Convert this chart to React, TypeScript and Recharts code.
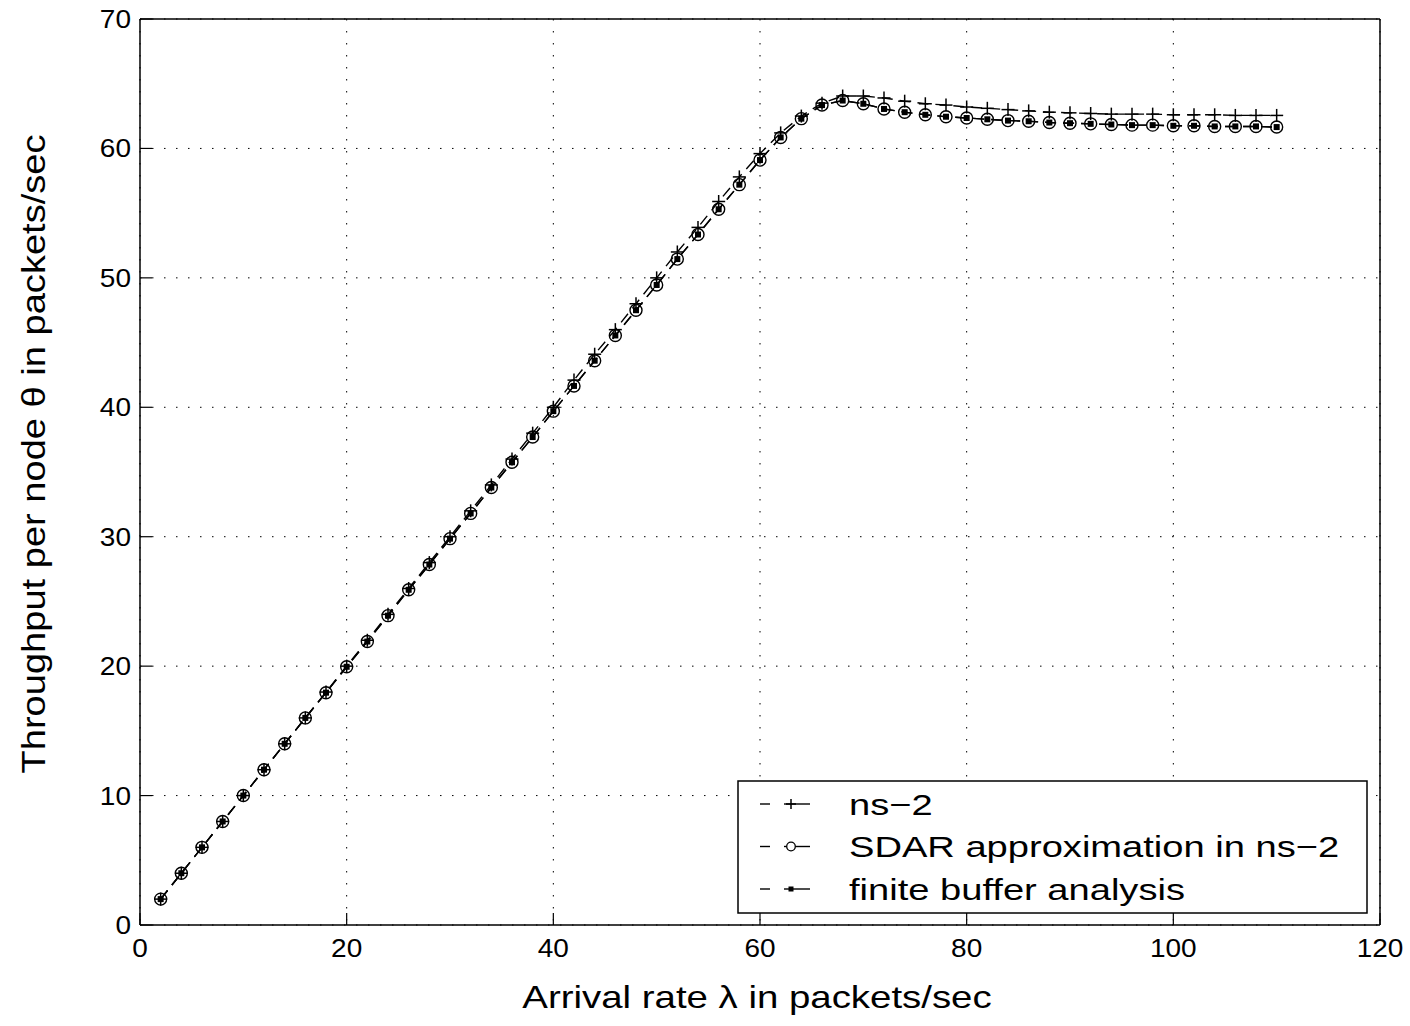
import React from "react";
import {
  ComposedChart,
  Line,
  XAxis,
  YAxis,
  CartesianGrid,
  Legend,
} from "recharts";

const FONT = '"Liberation Sans", Arial, Helvetica, sans-serif';

// arrival rate lambda (packets/sec)
const arrivalRate = [
  2, 4, 6, 8, 10, 12, 14, 16, 18, 20, 22, 24, 26, 28, 30, 32, 34, 36, 38, 40,
  42, 44, 46, 48, 50, 52, 54, 56, 58, 60, 62, 64, 66, 68, 70, 72, 74, 76, 78,
  80, 82, 84, 86, 88, 90, 92, 94, 96, 98, 100, 102, 104, 106, 108, 110,
];

const ns2Throughput = [
  2.0, 4.0, 6.0, 8.0, 10.0, 12.0, 14.0, 16.0, 18.0, 20.0, 22.0, 24.0, 26.0,
  28.0, 30.0, 32.0, 34.0, 36.0, 38.0, 40.0, 42.1, 44.1, 46.0, 48.0, 50.0, 52.0,
  53.9, 55.9, 57.8, 59.6, 61.2, 62.5, 63.5, 64.05, 64.05, 63.9, 63.65, 63.45,
  63.35, 63.2, 63.1, 63.0, 62.9, 62.8, 62.75, 62.7, 62.65, 62.65, 62.65, 62.6,
  62.6, 62.6, 62.55, 62.55, 62.55,
];

const sdarThroughput = [
  2.0, 4.0, 6.0, 8.0, 10.0, 12.0, 14.0, 16.0, 17.95, 19.95, 21.9, 23.9, 25.9,
  27.85, 29.85, 31.8, 33.8, 35.75, 37.7, 39.7, 41.65, 43.6, 45.55, 47.5, 49.45,
  51.45, 53.35, 55.3, 57.2, 59.1, 60.85, 62.3, 63.35, 63.7, 63.45, 63.05, 62.8,
  62.6, 62.45, 62.35, 62.25, 62.15, 62.1, 62.0, 61.95, 61.9, 61.85, 61.8,
  61.8, 61.75, 61.75, 61.7, 61.7, 61.7, 61.65,
];

const finiteBufferThroughput = [
  2.0, 4.0, 6.0, 8.0, 10.0, 12.0, 14.0, 16.0, 17.95, 19.95, 21.9, 23.9, 25.9,
  27.85, 29.85, 31.8, 33.8, 35.75, 37.7, 39.7, 41.65, 43.6, 45.55, 47.5, 49.45,
  51.45, 53.35, 55.3, 57.2, 59.1, 60.85, 62.3, 63.35, 63.7, 63.45, 63.05, 62.8,
  62.6, 62.45, 62.35, 62.25, 62.15, 62.1, 62.0, 61.95, 61.9, 61.85, 61.8,
  61.8, 61.75, 61.75, 61.7, 61.7, 61.7, 61.65,
];

const xTicks = [0, 20, 40, 60, 80, 100, 120];
const yTicks = [0, 10, 20, 30, 40, 50, 60, 70];
const seriesNames = [
  "ns\u22122",
  "SDAR approximation in ns\u22122",
  "finite buffer analysis",
];
const seriesMarkers = ["plus", "circle", "square"];

const data = arrivalRate.map((x, i) => ({
  x,
  ns2: ns2Throughput[i],
  sdar: sdarThroughput[i],
  fb: finiteBufferThroughput[i],
}));

const Plus = ({ cx, cy, r = 6.5 }: any) => {
  if (cx == null || cy == null) return null;
  return (
    <g>
      <line x1={cx - r} y1={cy} x2={cx + r} y2={cy} stroke="#000" strokeWidth={1.5} />
      <line x1={cx} y1={cy - r} x2={cx} y2={cy + r} stroke="#000" strokeWidth={1.5} />
    </g>
  );
};

const Ring = ({ cx, cy, r = 6 }: any) => {
  if (cx == null || cy == null) return null;
  return <circle cx={cx} cy={cy} r={r} fill="none" stroke="#000" strokeWidth={1.4} />;
};

const Square = ({ cx, cy, s = 3 }: any) => {
  if (cx == null || cy == null) return null;
  return <rect x={cx - s} y={cy - s} width={s * 2} height={s * 2} fill="#000" />;
};

const YTick = ({ x, y, payload }: any) => (
  <text
    transform={`translate(${x},${y}) scale(1.12,1)`}
    textAnchor="end"
    dy="0.36em"
    fontSize={25}
    fontFamily={FONT}
    fill="#000"
  >
    {payload.value}
  </text>
);

const XTick = ({ x, y, payload }: any) => (
  <text
    transform={`translate(${x},${y}) scale(1.12,1)`}
    textAnchor="middle"
    fontSize={25}
    fontFamily={FONT}
    fill="#000"
  >
    {payload.value}
  </text>
);

const XLabel = ({ viewBox }: any) => (
  <text
    transform={`translate(${viewBox.x + viewBox.width / 2 - 3},${viewBox.y + 83}) scale(1.2,1)`}
    textAnchor="middle"
    fontSize={32}
    fontFamily={FONT}
    fill="#000"
  >
    Arrival rate {"\u03bb"} in packets/sec
  </text>
);

const YLabel = ({ viewBox }: any) => (
  <text
    transform={`translate(${viewBox.x + 45},${viewBox.y + viewBox.height / 2 - 18}) rotate(-90) scale(1.12,1)`}
    textAnchor="middle"
    fontSize={34}
    fontFamily={FONT}
    fill="#000"
  >
    Throughput per node {"\u03b8"} in packets/sec
  </text>
);

const LegendBox = () => {
  const rows = [814.5, 857, 899.5].map((b) => b - 780);
  return (
    <svg width={631} height={134} style={{ display: "block" }}>
      <rect x={1} y={1} width={629} height={132} fill="#fff" stroke="#000" strokeWidth={1.5} />
      {seriesNames.map((name, i) => {
        const my = rows[i] - 10.5;
        return (
          <g key={name}>
            <line x1={23} y1={my} x2={33} y2={my} stroke="#000" strokeWidth={1.4} />
            <line x1={47} y1={my} x2={73} y2={my} stroke="#000" strokeWidth={1.4} />
            {seriesMarkers[i] === "plus" && <Plus cx={54} cy={my} r={5} />}
            {seriesMarkers[i] === "circle" && (
              <circle cx={54} cy={my} r={4.3} fill="#fff" stroke="#000" strokeWidth={1.3} />
            )}
            {seriesMarkers[i] === "square" && <Square cx={54} cy={my} s={2.5} />}
            <text
              transform={`translate(112,${rows[i]}) scale(1.27,1)`}
              fontSize={30}
              fontFamily={FONT}
              fill="#000"
            >
              {name}
            </text>
          </g>
        );
      })}
    </svg>
  );
};

export default function App() {
  return (
    <div style={{ position: "absolute", left: 0, top: 0, background: "#fff" }}>
      <ComposedChart
        width={1410}
        height={1026}
        data={data}
        margin={{ top: 0, right: 0, bottom: 0, left: 0 }}
      >
        <CartesianGrid
          stroke="#000"
          strokeWidth={1}
          strokeDasharray="1.5 10.5"
        />
        <XAxis
          dataKey="x"
          type="number"
          domain={[0, 120]}
          ticks={xTicks}
          allowDataOverflow
          height={101}
          stroke="#000"
          axisLine={{ stroke: "#000", strokeWidth: 1.5 }}
          tickLine={{ stroke: "#000", strokeWidth: 1.2 }}
          tickSize={-12}
          tickMargin={44}
          tick={<XTick />}
          label={{ content: <XLabel /> }}
        />
        <YAxis
          type="number"
          domain={[0, 70]}
          ticks={yTicks}
          allowDataOverflow
          width={140}
          stroke="#000"
          axisLine={{ stroke: "#000", strokeWidth: 1.5 }}
          tickLine={{ stroke: "#000", strokeWidth: 1.2 }}
          tickSize={-12}
          tickMargin={21}
          tick={<YTick />}
          label={{ content: <YLabel /> }}
        />
        <XAxis
          xAxisId="top"
          orientation="top"
          dataKey="x"
          type="number"
          domain={[0, 120]}
          ticks={xTicks}
          allowDataOverflow
          height={19}
          stroke="#000"
          axisLine={{ stroke: "#000", strokeWidth: 1.5 }}
          tickLine={{ stroke: "#000", strokeWidth: 1.2 }}
          tickSize={-12}
          tick={false}
        />
        <YAxis
          yAxisId="right"
          orientation="right"
          type="number"
          domain={[0, 70]}
          ticks={yTicks}
          allowDataOverflow
          width={30}
          stroke="#000"
          axisLine={{ stroke: "#000", strokeWidth: 1.5 }}
          tickLine={{ stroke: "#000", strokeWidth: 1.2 }}
          tickSize={-12}
          tick={false}
        />
        <Line
          xAxisId="top"
          yAxisId="right"
          dataKey="ns2"
          stroke="none"
          dot={false}
          activeDot={false}
          legendType="none"
          isAnimationActive={false}
        />
        <Line
          type="linear"
          dataKey="ns2"
          name={seriesNames[0]}
          stroke="#000"
          strokeWidth={1.4}
          strokeDasharray="11 7"
          dot={(p: any) => <Plus key={`p${p.index}`} cx={p.cx} cy={p.cy} />}
          activeDot={false}
          isAnimationActive={false}
        />
        <Line
          type="linear"
          dataKey="sdar"
          name={seriesNames[1]}
          stroke="#000"
          strokeWidth={1.4}
          strokeDasharray="11 7"
          dot={(p: any) => <Ring key={`c${p.index}`} cx={p.cx} cy={p.cy} />}
          activeDot={false}
          isAnimationActive={false}
        />
        <Line
          type="linear"
          dataKey="fb"
          name={seriesNames[2]}
          stroke="#000"
          strokeWidth={1.4}
          strokeDasharray="11 7"
          dot={(p: any) => <Square key={`s${p.index}`} cx={p.cx} cy={p.cy} />}
          activeDot={false}
          isAnimationActive={false}
        />
        <Legend
          layout="horizontal"
          verticalAlign="middle"
          align="center"
          content={<LegendBox />}
          wrapperStyle={{ left: 737, top: 780, width: 631, height: 134 }}
        />
      </ComposedChart>
    </div>
  );
}
